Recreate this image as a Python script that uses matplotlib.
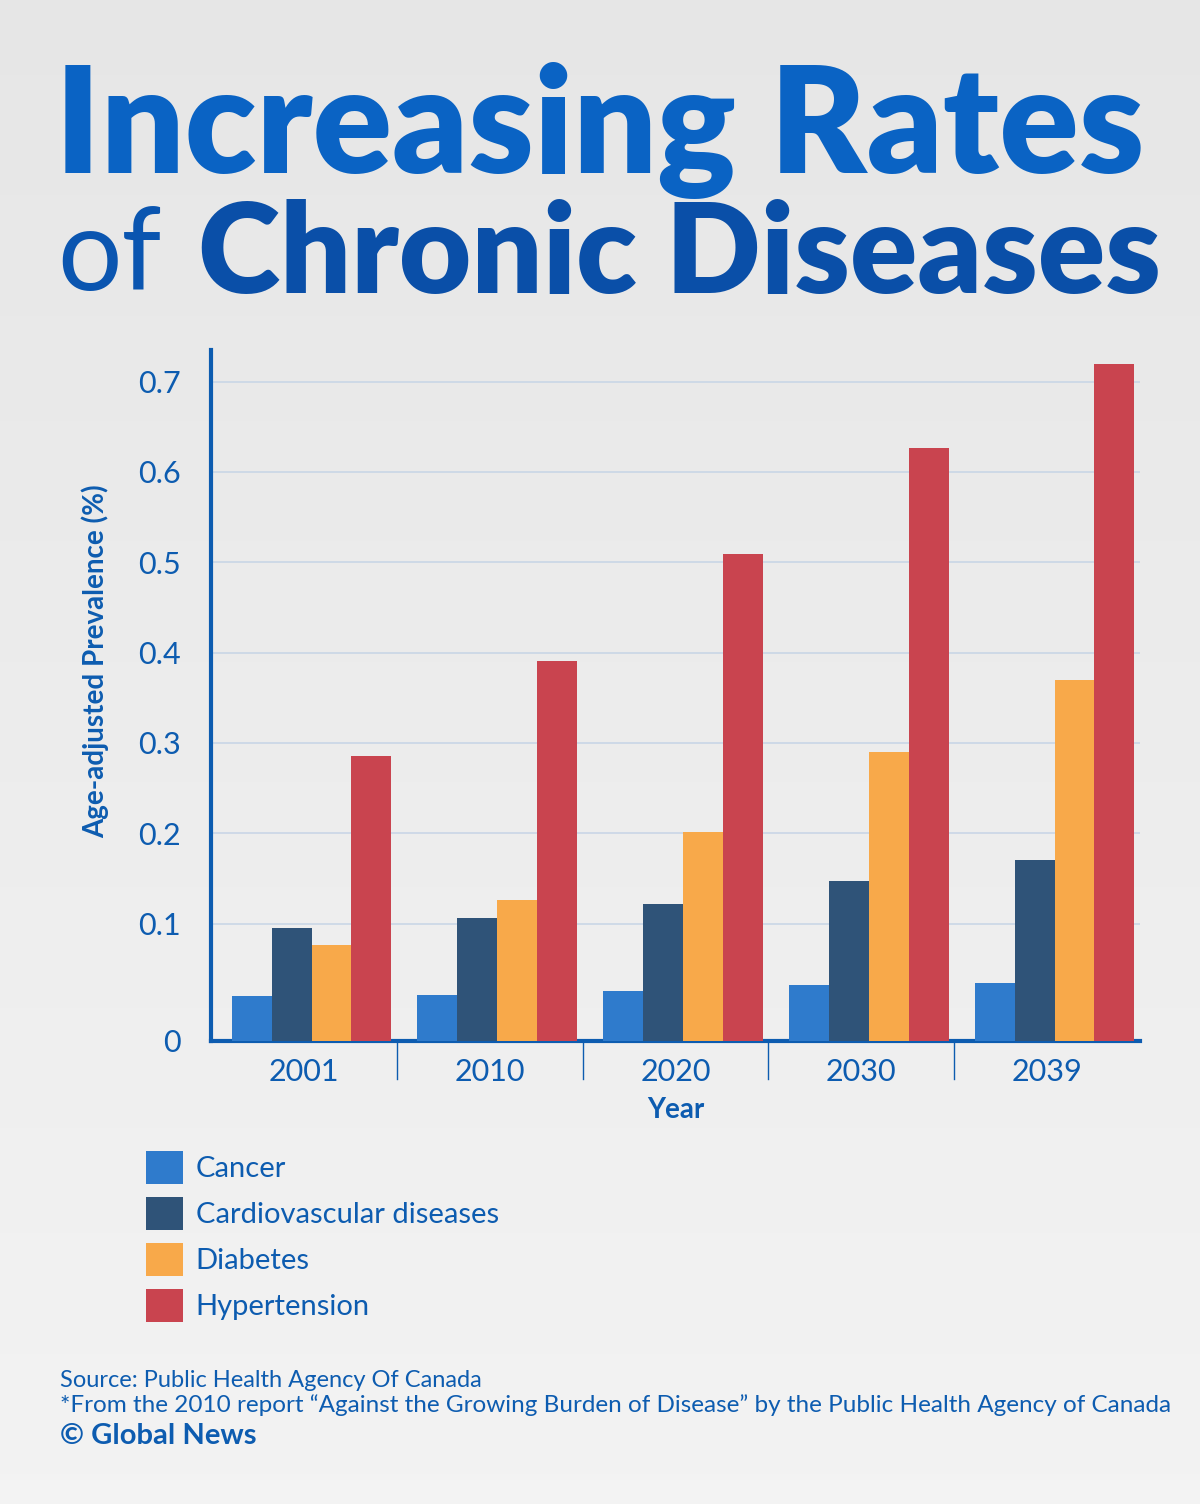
import numpy as np
import matplotlib.pyplot as plt

years = ['2001', '2010', '2020', '2030', '2039']
series = ['Cancer', 'Cardiovascular diseases', 'Diabetes', 'Hypertension']
cancer = [0.020, 0.021, 0.025, 0.032, 0.034]
cardio = [0.095, 0.106, 0.122, 0.147, 0.170]
diabetes = [0.076, 0.126, 0.201, 0.290, 0.370]
hypertension = [0.285, 0.391, 0.509, 0.627, 0.719]
yticks = [0.1, 0.2, 0.3, 0.4, 0.5, 0.6, 0.7]

colors = ['#2f7bcc', '#2f5378', '#f8a94a', '#c9444f']
blue = '#0d5cb0'
base = -0.03

plt.rcParams['font.family'] = ['Lato', 'DejaVu Sans']
fig = plt.figure(figsize=(12, 15.04), dpi=100)
# background gradient
bg = fig.add_axes([0, 0, 1, 1])
bg.imshow(np.linspace(0.90, 0.95, 100).reshape(-1, 1), cmap='gray', vmin=0, vmax=1,
          aspect='auto', extent=[0, 1, 0, 1])
bg.axis('off')

fig.text(0.046, 0.885, 'Increasing Rates', fontsize=106, fontweight='heavy', color='#0a63c4')
fig.text(0.048, 0.807, 'of', fontsize=82, fontweight='normal', color='#0a55b0')
fig.text(0.165, 0.805, 'Chronic Diseases', fontsize=90, fontweight='heavy', color='#0a4fa8')

ax = fig.add_axes([0.176, 1 - 1041 / 1504, 0.774, 691 / 1504])
ax.patch.set_alpha(0)
w = 0.215
x = np.arange(len(years)) + 0.04
for i, (vals, c) in enumerate(zip([cancer, cardio, diabetes, hypertension], colors)):
    ax.bar(x + (i - 1.5) * w, np.array(vals) - base, width=w, bottom=base, color=c,
           label=series[i], zorder=3)
ax.set_xlim(-0.5, 4.5)
ax.set_ylim(base, 0.735)
ax.set_yticks([base] + yticks)
ax.set_yticklabels(['0'] + [f'{t:.1f}' for t in yticks])
ax.grid(axis='y', color='#c9d6e6', lw=1.2, zorder=0)
ax.set_xticks(np.arange(len(years)))
ax.set_xticklabels(years)
ax.tick_params(axis='both', length=0, labelsize=22, labelcolor=blue, pad=12)
ax.tick_params(axis='y', pad=22)
for s in ['top', 'right']:
    ax.spines[s].set_visible(False)
for s in ['left', 'bottom']:
    ax.spines[s].set_color(blue)
    ax.spines[s].set_linewidth(3)
for b in np.arange(0.5, 4.5, 1):
    ax.plot([b, b], [0, -0.055], transform=ax.get_xaxis_transform(), color=blue,
            lw=1, clip_on=False)
ax.set_xlabel('Year', fontsize=20, fontweight='bold', color=blue, labelpad=8)
ax.set_ylabel('Age-adjusted Prevalence (%)', fontsize=20, fontweight='bold', color=blue)
ax.yaxis.set_label_coords(-0.11, 0.55)

handles, labels = ax.get_legend_handles_labels()
fig.legend(handles, labels, loc='upper left', bbox_to_anchor=(0.1, 0.252),
           frameon=False, fontsize=21, labelcolor=blue, handlelength=1.25,
           handleheight=1.35, labelspacing=0.45, handletextpad=0.45)

fig.text(0.05, 0.078, 'Source: Public Health Agency Of Canada', fontsize=17, color=blue)
fig.text(0.05, 0.061, '*From the 2010 report \u201cAgainst the Growing Burden of Disease\u201d '
         'by the Public Health Agency of Canada', fontsize=17.5, color=blue)
fig.text(0.05, 0.040, '\u00a9 Global News', fontsize=21, fontweight='bold', color=blue)

fig.savefig('out.png', dpi=100)
